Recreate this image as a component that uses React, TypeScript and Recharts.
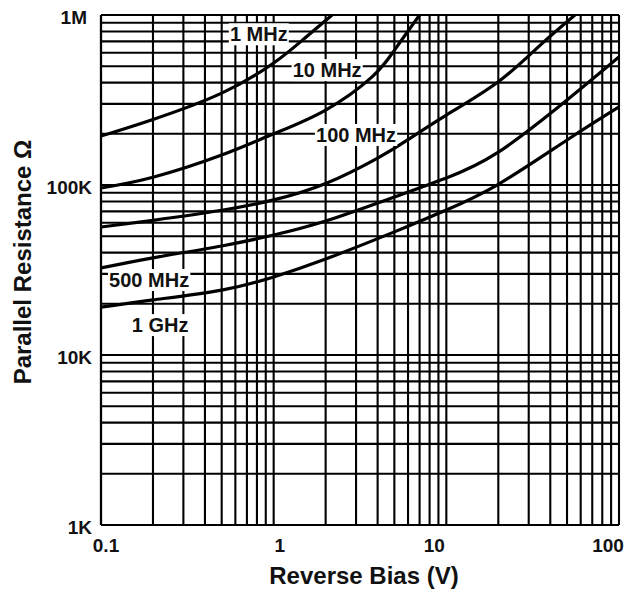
import { LineChart, Line, XAxis, YAxis, CartesianGrid, ReferenceDot, Label } from 'recharts'

// reverse bias (V) / parallel resistance (ohm) per test frequency
const V_1MHZ = [0.1, 0.2, 0.5, 1, 1.5, 2.18]
const R_1MHZ = [194000, 243000, 347000, 522000, 725000, 1000000]

const V_10MHZ = [0.1, 0.2, 0.5, 1, 2, 3.7, 5, 7]
const R_10MHZ = [96000, 111000, 150000, 200000, 276000, 431000, 620000, 1000000]

const V_100MHZ = [0.1, 0.2, 0.5, 1, 2, 4, 6, 10, 20, 35, 55.6]
const R_100MHZ = [56600, 62000, 71000, 81700, 102000, 144000, 185000, 258000, 405000, 665000, 1000000]

const V_500MHZ = [0.1, 0.2, 0.5, 1, 2, 5, 10, 20, 50, 100]
const R_500MHZ = [32500, 37300, 43800, 50800, 61400, 85000, 110000, 156000, 316000, 566000]

const V_1GHZ = [0.1, 0.2, 0.5, 1, 2, 5, 10, 20, 50, 100]
const R_1GHZ = [19100, 21100, 24100, 28800, 36700, 53000, 71300, 101000, 184000, 288000]

// curve tags
const TAG_TEXT = ['1 MHz', '10 MHz', '100 MHz', '500 MHz', '1 GHz']
const TAG_V = [0.82, 2.04, 3.0, 0.19, 0.22]
const TAG_R = [770000, 474000, 197000, 27600, 15000]

// log grid
const X_GRID = [
  0.1, 0.2, 0.3, 0.4, 0.5, 0.6, 0.7, 0.8, 0.9,
  1, 2, 3, 4, 5, 6, 7, 8, 9,
  10, 20, 30, 40, 50, 60, 70, 80, 90, 100,
]
const Y_GRID = [
  1000, 2000, 3000, 4000, 5000, 6000, 7000, 8000, 9000,
  10000, 20000, 30000, 40000, 50000, 60000, 70000, 80000, 90000,
  100000, 200000, 300000, 400000, 500000, 600000, 700000, 800000, 900000, 1000000,
]
const X_DECADES = [0.1, 1, 10, 100]
const X_LABELS = ['0.1', '1', '10', '100']
const Y_DECADES = [1000, 10000, 100000, 1000000]
const Y_LABELS = ['1K', '10K', '100K', '1M']

const FONT = "'Liberation Sans', Arial, sans-serif"
const X_LABEL_DX = [5, 6, -12, -11]
const Y_LABEL_DX = [0, 0, 0, -5]

const toPoints = (vs: number[], rs: number[]) => vs.map((v, i) => ({ v, r: rs[i] }))

const SERIES = [
  toPoints(V_1MHZ, R_1MHZ),
  toPoints(V_10MHZ, R_10MHZ),
  toPoints(V_100MHZ, R_100MHZ),
  toPoints(V_500MHZ, R_500MHZ),
  toPoints(V_1GHZ, R_1GHZ),
]

function XTick({ x, y, payload }: any) {
  const i = X_DECADES.indexOf(payload.value)
  if (i < 0) return <g />
  return (
    <text x={x + X_LABEL_DX[i]} y={y + 25} textAnchor="middle" fontFamily={FONT} fontWeight="bold" fontSize={19} fill="#111">
      {X_LABELS[i]}
    </text>
  )
}

function YTick({ x, y, payload }: any) {
  const i = Y_DECADES.indexOf(payload.value)
  if (i < 0) return <g />
  return (
    <text x={x + Y_LABEL_DX[i]} y={y + 9} textAnchor="end" fontFamily={FONT} fontWeight="bold" fontSize={19} fill="#111">
      {Y_LABELS[i]}
    </text>
  )
}

function YTitle({ viewBox }: any) {
  const cx = 22
  const cy = viewBox.y + viewBox.height / 2 - 8
  return (
    <text
      x={cx}
      y={cy}
      transform={`rotate(-90 ${cx} ${cy})`}
      textAnchor="middle"
      dominantBaseline="central"
      fontFamily={FONT}
      fontWeight="bold"
      fontSize={24}
      fill="#111"
    >
      Parallel Resistance Ω
    </text>
  )
}

function TagBox({ cx, cy, text }: any) {
  const w = text.length * 11.2 + 4
  return (
    <g>
      <rect x={cx - w / 2} y={cy - 11} width={w} height={22} fill="#fff" />
      <text x={cx} y={cy + 7} textAnchor="middle" fontFamily={FONT} fontWeight="bold" fontSize={20} fill="#111">
        {text}
      </text>
    </g>
  )
}

export default function App() {
  return (
    <div style={{ position: 'absolute', left: 0, top: 0, background: '#fff' }}>
      <LineChart width={630} height={593} margin={{ top: 15, right: 11, bottom: 0, left: 0 }}>
        <CartesianGrid stroke="#000" strokeWidth={2.1} />
        <XAxis
          dataKey="v"
          type="number"
          scale="log"
          domain={[0.1, 100]}
          ticks={X_GRID}
          interval={0}
          allowDataOverflow
          height={68}
          tickSize={0}
          tickLine={false}
          axisLine={{ stroke: '#000', strokeWidth: 2.2 }}
          tick={<XTick />}
        >
          <Label
            value="Reverse Bias (V)"
            position="insideBottom"
            offset={9}
            dx={4}
            style={{ fontFamily: FONT, fontWeight: 'bold', fontSize: 24, fill: '#111' }}
          />
        </XAxis>
        <YAxis
          dataKey="r"
          type="number"
          scale="log"
          domain={[1000, 1000000]}
          ticks={Y_GRID}
          interval={0}
          allowDataOverflow
          width={101}
          tickSize={0}
          tickMargin={9}
          tickLine={false}
          axisLine={{ stroke: '#000', strokeWidth: 2.2 }}
          tick={<YTick />}
        >
          <Label content={<YTitle />} />
        </YAxis>
        {SERIES.map((pts, i) => (
          <Line
            key={TAG_TEXT[i]}
            data={pts}
            dataKey="r"
            type="natural"
            stroke="#000"
            strokeWidth={3.2}
            dot={false}
            isAnimationActive={false}
          />
        ))}
        {TAG_TEXT.map((t, i) => (
          <ReferenceDot
            key={t}
            x={TAG_V[i]}
            y={TAG_R[i]}
            r={0}
            ifOverflow="visible"
            shape={(p: any) => <TagBox {...p} text={t} />}
          />
        ))}
      </LineChart>
    </div>
  )
}
